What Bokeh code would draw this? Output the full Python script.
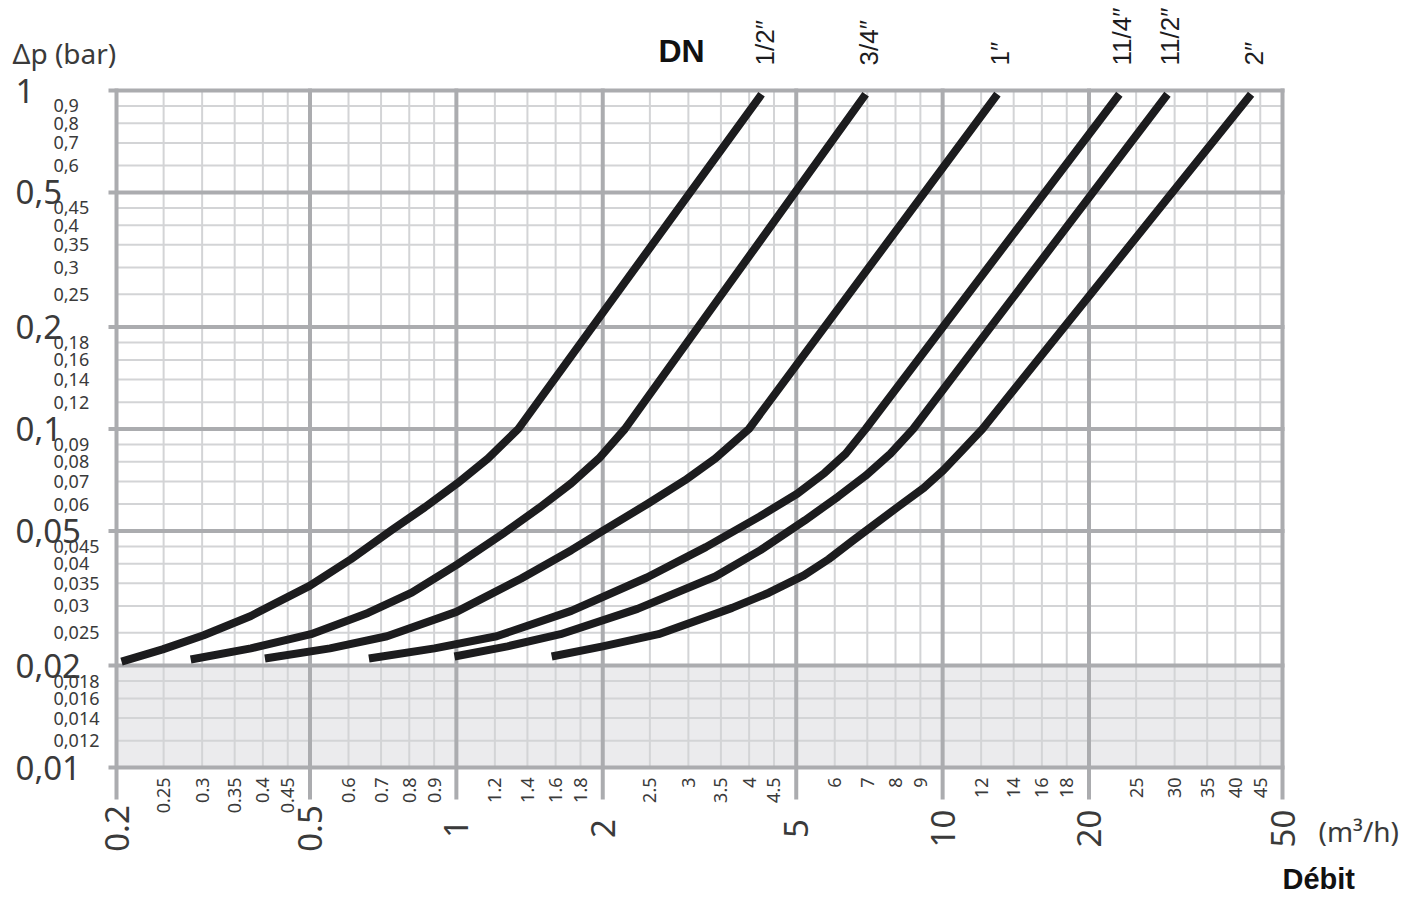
import math
from bokeh.plotting import figure
from bokeh.models import Range1d, BoxAnnotation
from bokeh.core.properties import value
from bokeh.embed import file_html
from bokeh.resources import INLINE

# ---------------- data ----------------
x_major = [0.2, 0.5, 1, 2, 5, 10, 20, 50]
x_major_labels = ["0.2", "0.5", "1", "2", "5", "10", "20", "50"]
x_minor = [0.25, 0.3, 0.35, 0.4, 0.45, 0.6, 0.7, 0.8, 0.9, 1.2, 1.4, 1.6, 1.8,
           2.5, 3, 3.5, 4, 4.5, 6, 7, 8, 9, 12, 14, 16, 18, 25, 30, 35, 40, 45]
x_minor_labels = ["0.25", "0.3", "0.35", "0.4", "0.45", "0.6", "0.7", "0.8", "0.9",
                  "1.2", "1.4", "1.6", "1.8", "2.5", "3", "3.5", "4", "4.5",
                  "6", "7", "8", "9", "12", "14", "16", "18", "25", "30", "35", "40", "45"]
y_major = [1, 0.5, 0.2, 0.1, 0.05, 0.02, 0.01]
y_major_labels = ["1", "0,5", "0,2", "0,1", "0,05", "0,02", "0,01"]
y_minor = [0.9, 0.8, 0.7, 0.6, 0.45, 0.4, 0.35, 0.3, 0.25, 0.18, 0.16, 0.14, 0.12,
           0.09, 0.08, 0.07, 0.06, 0.045, 0.04, 0.035, 0.03, 0.025,
           0.018, 0.016, 0.014, 0.012]
y_minor_labels = ["0,9", "0,8", "0,7", "0,6", "0,45", "0,4", "0,35", "0,3", "0,25",
                  "0,18", "0,16", "0,14", "0,12", "0,09", "0,08", "0,07", "0,06",
                  "0,045", "0,04", "0,035", "0,03", "0,025",
                  "0,018", "0,016", "0,014", "0,012"]

dn_names = ["1/2\u2033", "3/4\u2033", "1\u2033", "11/4\u2033", "11/2\u2033", "2\u2033"]

# flow (m3/h) and pressure drop (bar)
q_12 = [0.2048, 0.2488, 0.3022, 0.3779, 0.5, 0.6068, 0.7365, 0.8619, 1.0047, 1.1605, 1.3404, 4.2424]
dp_12 = [0.02056, 0.02233, 0.02459, 0.02803, 0.03447, 0.04123, 0.05032, 0.05878, 0.06912, 0.0818, 0.1, 0.9749]

q_34 = [0.2842, 0.3779, 0.5022, 0.6579, 0.8093, 1.0047, 1.2444, 1.4783, 1.7233, 1.9633, 2.2207, 6.945]
dp_34 = [0.02085, 0.02249, 0.02476, 0.02862, 0.03284, 0.03983, 0.04897, 0.0584, 0.06912, 0.0818, 0.1, 0.9749]

q_1 = [0.4039, 0.5495, 0.7201, 1.0, 1.3595, 1.7233, 2.0, 2.4651, 2.9487, 3.4077, 3.9961, 12.962]
dp_1 = [0.02099, 0.02249, 0.02442, 0.02882, 0.03617, 0.04386, 0.05, 0.05993, 0.07048, 0.0818, 0.1, 0.9749]

q_114 = [0.6609, 0.9017, 1.21, 1.7233, 2.4651, 3.2583, 4.2002, 5.0225, 5.7224, 6.3179, 6.9448, 23.09]
dp_114 = [0.02099, 0.02249, 0.02442, 0.02902, 0.03642, 0.04478, 0.0551, 0.06436, 0.07423, 0.0845, 0.1, 0.9749]

q_112 = [0.991, 1.2737, 1.6374, 2.3573, 3.4077, 4.2212, 5.2067, 6.0948, 6.9448, 7.8083, 8.6985, 29.0]
dp_112 = [0.02128, 0.0228, 0.02476, 0.02942, 0.03667, 0.04386, 0.05369, 0.06312, 0.0728, 0.0845, 0.1, 0.9749]

q_2 = [1.5706, 2.0, 2.6037, 3.6904, 4.393, 5.1834, 5.8264, 6.5202, 8.1311, 9.1402, 10.047, 11.092, 12.075, 43.09]
dp_2 = [0.02128, 0.0228, 0.02476, 0.02962, 0.03284, 0.03693, 0.04123, 0.04667, 0.05917, 0.06691, 0.07569, 0.08783, 0.1, 0.9749]

curves_q = [q_12, q_34, q_1, q_114, q_112, q_2]
curves_dp = [dp_12, dp_34, dp_1, dp_114, dp_112, dp_2]

# ---------------- layout (pixels on the page) ----------------
W, H = 1401, 897
FX0, FX1 = 116, 1282      # plot area left / right
FY0, FY1 = 90, 767        # plot area top / bottom
X_LO, X_HI = 0.2, 50.0
Y_LO, Y_HI = 0.01, 1.0
dpx = math.log10(X_HI / X_LO) / (FX1 - FX0)
dpy = math.log10(Y_HI / Y_LO) / (FY1 - FY0)


def xv(px):
    return 10 ** (math.log10(X_LO) + (px - FX0) * dpx)


def yv(py):
    return 10 ** (math.log10(Y_HI) - (py - FY0) * dpy)


# ---------------- styles ----------------
MAJ = "#abacaf"
MIN = "#d3d4d6"
BAND = "#ebebed"
TXT = "#3a3a3a"
INK = "#1c1c1e"
FONT = value("Noto Sans")

p = figure(width=W, height=H, x_axis_type="log", y_axis_type="log",
           x_range=Range1d(xv(0), xv(W)), y_range=Range1d(yv(H), yv(0)),
           x_axis_location=None, y_axis_location=None,
           output_backend="svg", toolbar_location=None, min_border=0)
p.outline_line_color = None
p.background_fill_color = "white"
p.border_fill_color = "white"
p.center = []

# shaded band below 0,02
p.add_layout(BoxAnnotation(left=X_LO, right=X_HI, bottom=Y_LO, top=0.02,
                           fill_color=BAND, fill_alpha=1.0, line_color=None,
                           level="underlay"))

# minor grid
p.segment(x0=x_minor, y0=Y_LO, x1=x_minor, y1=Y_HI, line_color=MIN, line_width=2)
p.segment(x0=X_LO, y0=y_minor, x1=X_HI, y1=y_minor, line_color=MIN, line_width=2)
# major grid incl. frame, with tick stubs outside the plot area
p.segment(x0=x_major, y0=yv(797), x1=x_major, y1=Y_HI, line_color=MAJ,
          line_width=4, line_cap="square")
p.segment(x0=xv(110), y0=y_major, x1=X_HI, y1=y_major, line_color=MAJ,
          line_width=4, line_cap="square")

# curves
for q, dp in zip(curves_q, curves_dp):
    p.line(q, dp, line_width=8, line_color=INK, line_join="round", line_cap="butt")

# tick labels
p.text(x=x_major, y=yv(828), text=x_major_labels, angle=math.pi / 2,
       text_align="center", text_baseline="middle",
       text_font=FONT, text_font_size="33px", text_color=TXT)
p.text(x=x_minor, y=yv(777), text=x_minor_labels, angle=math.pi / 2,
       text_align="right", text_baseline="middle",
       text_font=FONT, text_font_size="18px", text_color=TXT)
p.text(x=xv(15), y=y_major, text=y_major_labels,
       text_align="left", text_baseline="middle",
       text_font=FONT, text_font_size="33px", text_color=TXT)
p.text(x=xv(53), y=y_minor, text=y_minor_labels,
       text_align="left", text_baseline="middle",
       text_font=FONT, text_font_size="18px", text_color=TXT)

# DN labels above the curve ends
p.text(x=[q[-1] for q in curves_q], y=yv(65), text=dn_names, angle=math.pi / 2,
       x_offset=3, text_align="left", text_baseline="middle",
       text_font=value("Liberation Sans Narrow, Liberation Sans"),
       text_font_size="26px", text_color=INK)

# titles
p.text(x=[xv(12)], y=[yv(52)], text=["\u0394p (bar)"], text_align="left",
       text_baseline="middle", text_font=FONT, text_font_size="28px", text_color=TXT)
p.text(x=[xv(658)], y=[yv(50)], text=["DN"], text_align="left",
       text_baseline="middle", text_font=value("Liberation Sans"),
       text_font_style="bold", text_font_size="32px", text_color="#111111")
p.text(x=[xv(1318)], y=[yv(830)], text=["(m\u00b3/h)"], text_align="left",
       text_baseline="middle", text_font=FONT, text_font_size="28px", text_color=TXT)
p.text(x=[xv(1282)], y=[yv(878)], text=["D\u00e9bit"], text_align="left",
       text_baseline="middle", text_font=value("Liberation Sans"),
       text_font_style="bold", text_font_size="29px", text_color="#111111")

open("out.html", "w").write(file_html(p, INLINE))
